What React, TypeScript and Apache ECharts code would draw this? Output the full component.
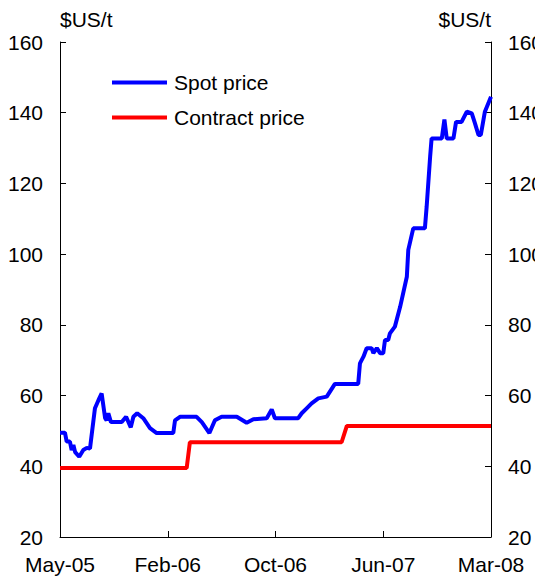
import React, { useEffect, useRef } from "react";
import * as echarts from "echarts";

// x values are weeks since May-05 (tick every 37 weeks)
const xTickLabels = ["May-05", "Feb-06", "Oct-06", "Jun-07", "Mar-08"];
const weeksPerTick = 37;

const spotWeeks = [
  0, 1.7, 2.3, 3.4, 4.0, 4.6, 5.2, 6.6, 8.0, 9.2, 10.3, 12.0, 13.2, 14.3, 15.5, 16.0, 16.6, 17.5, 21.2, 22.7,
  24.3, 25.2, 26.5, 28.6, 30.9, 33.2, 38.9, 39.5, 41.2, 46.9, 48.7, 51.3, 53.2, 55.5, 60.7, 64.1, 66.4, 71.0,
  72.7, 73.8, 81.8, 83.0, 84.7, 86.4, 88.7, 91.6, 94.4, 102.4, 103.0, 104.2, 105.3, 107.0, 107.6, 108.8,
  109.9, 111.0, 111.6, 112.7, 113.3, 115.0, 116.8, 119.1, 119.6, 121.3, 125.3, 125.9, 127.1, 127.6, 131.1,
  132.0, 132.8, 135.1, 136.0, 137.9, 139.7, 141.4, 142.5, 143.7, 144.5, 145.9, 148,
];
const spotPrice = [
  49.5, 49.5, 47, 47, 44.6, 46, 44, 42.7, 44.6, 45.2, 45, 56.4, 58.7, 60.6, 53.6, 53, 55, 52.5, 52.5, 54,
  51, 54, 55, 53.6, 50.8, 49.4, 49.4, 53, 54, 54, 52.5, 49.4, 53, 54, 54, 52.3, 53.3, 53.6,
  56.1, 53.6, 53.6, 55, 56.4, 57.8, 59.2, 59.7, 63.3, 63.3, 69.1, 71, 73.4, 73.4, 72, 73.4,
  72, 72, 75.7, 75.7, 77.6, 79.5, 85.1, 93.6, 101.2, 107.3, 107.3, 113.4, 127.6, 132.7, 132.7,
  138.1, 132.7, 132.7, 137.4, 137.4, 140.3, 139.8, 137, 133.7, 133.7, 140.3, 144.5,
];

const contractWeeks = [0, 43.5, 44.6, 96.7, 98.5, 148];
const contractPrice = [39.5, 39.5, 46.8, 46.8, 51.4, 51.4];

const FONT = "Liberation Sans";

export default function App() {
  const ref = useRef<HTMLDivElement>(null);
  useEffect(() => {
    if (!ref.current) return;
    const chart = echarts.init(ref.current, null, { renderer: "svg" });
    const yAxisCommon = {
      type: "value",
      min: 20,
      max: 160,
      interval: 20,
      splitLine: { show: false },
      axisLine: { show: true, lineStyle: { color: "#000", width: 1 } },
      axisTick: { show: true, inside: true, length: 6, lineStyle: { color: "#000" } },
      axisLabel: { color: "#000", fontSize: 21, fontFamily: FONT, margin: 17 },
      name: "$US/t",
      nameLocation: "end",
      nameGap: 12,
    };
    chart.setOption({
      animation: false,
      grid: { left: 60, right: 44, top: 42, bottom: 43, outerBoundsMode: "none", containLabel: false },
      legend: {
        orient: "vertical",
        left: 112,
        top: 72,
        padding: 0,
        icon: "rect",
        itemWidth: 55,
        itemHeight: 4,
        itemGap: 14,
        textStyle: { color: "#000", fontSize: 21, fontFamily: FONT, padding: [0, 0, 0, 2] },
        data: ["Spot price", "Contract price"],
      },
      xAxis: {
        type: "value",
        min: 0,
        max: weeksPerTick * (xTickLabels.length - 1),
        interval: weeksPerTick,
        splitLine: { show: false },
        axisLine: { show: true, lineStyle: { color: "#000" } },
        axisTick: { show: true, inside: true, length: 6, lineStyle: { color: "#000" } },
        axisLabel: {
          color: "#000",
          fontSize: 21,
          fontFamily: FONT,
          margin: 17,
          formatter: (v: number) => xTickLabels[Math.round(v / weeksPerTick)] ?? "",
        },
      },
      yAxis: [
        {
          ...yAxisCommon,
          position: "left",
          nameTextStyle: { color: "#000", fontSize: 21, fontFamily: FONT, align: "left" },
        },
        {
          ...yAxisCommon,
          position: "right",
          nameTextStyle: { color: "#000", fontSize: 21, fontFamily: FONT, align: "right" },
        },
      ],
      series: [
        {
          name: "Spot price",
          type: "line",
          symbol: "none",
          lineStyle: { color: "#0000FF", width: 4 },
          itemStyle: { color: "#0000FF" },
          data: spotWeeks.map((w, i) => [w, spotPrice[i]]),
        },
        {
          name: "Contract price",
          type: "line",
          symbol: "none",
          lineStyle: { color: "#FF0000", width: 4 },
          itemStyle: { color: "#FF0000" },
          data: contractWeeks.map((w, i) => [w, contractPrice[i]]),
        },
      ],
    });
    return () => chart.dispose();
  }, []);
  return (
    <div
      ref={ref}
      style={{ position: "fixed", left: 0, top: 0, width: 535, height: 580, background: "#fff" }}
    />
  );
}
